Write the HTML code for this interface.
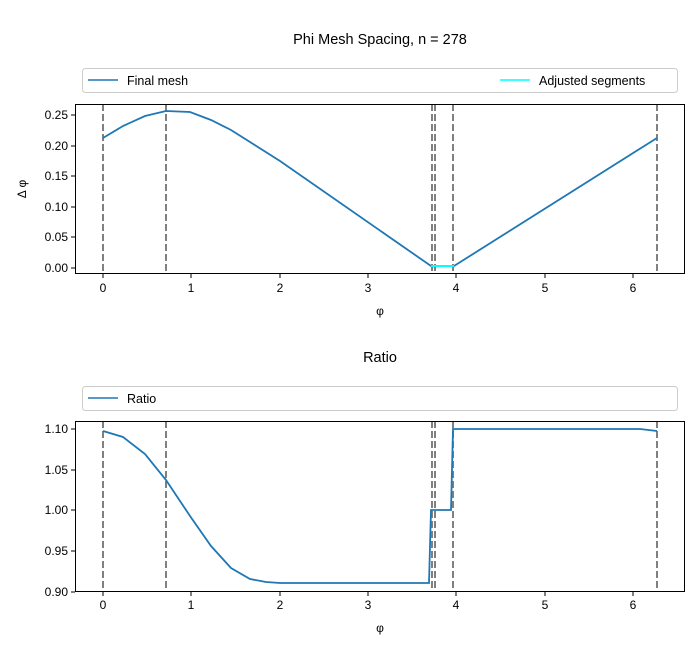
<!DOCTYPE html><html><head><style>body{margin:0;background:#fff}svg{font-family:"Liberation Sans",sans-serif}</style></head><body>
<svg width="700" height="650" xmlns="http://www.w3.org/2000/svg">
<text x="380" y="44" font-size="14.5" text-anchor="middle">Phi Mesh Spacing, n = 278</text>
<rect x="82.5" y="68.5" width="595" height="24" fill="#fff" stroke="#ccc" rx="3"/>
<line x1="88" y1="80" x2="118" y2="80" stroke="#1f77b4" stroke-width="1.5"/>
<text x="127" y="85" font-size="12.5">Final mesh</text>
<line x1="500" y1="80" x2="530" y2="80" stroke="cyan" stroke-width="1.5"/>
<text x="539" y="85" font-size="12.5">Adjusted segments</text>
<g stroke="#808080" stroke-width="2" stroke-dasharray="7,3">
<line x1="103" y1="104" x2="103" y2="274"/><line x1="166" y1="104" x2="166" y2="274"/><line x1="432" y1="104" x2="432" y2="274"/><line x1="435" y1="104" x2="435" y2="274"/><line x1="453" y1="104" x2="453" y2="274"/><line x1="657" y1="104" x2="657" y2="274"/>
<line x1="103" y1="421" x2="103" y2="592"/><line x1="166" y1="421" x2="166" y2="592"/><line x1="432" y1="421" x2="432" y2="592"/><line x1="435" y1="421" x2="435" y2="592"/><line x1="453" y1="421" x2="453" y2="592"/><line x1="657" y1="421" x2="657" y2="592"/>
</g>
<polyline fill="none" stroke="#1f77b4" stroke-width="1.8" points="103,138 123,126 145,116 166,111 190,112 211,120 231,130 250,142 280,161 431,266 454,266 657,138"/>
<line x1="431" y1="266" x2="454" y2="266" stroke="cyan" stroke-width="2"/>
<rect x="75.5" y="104.5" width="609" height="169" fill="none" stroke="#000"/>
<g font-size="12" text-anchor="middle">
<text x="103" y="292">0</text><text x="191" y="292">1</text><text x="280" y="292">2</text><text x="368" y="292">3</text><text x="456" y="292">4</text><text x="545" y="292">5</text><text x="633" y="292">6</text>
<text x="380" y="315">φ</text>
<text x="103" y="609">0</text><text x="191" y="609">1</text><text x="280" y="609">2</text><text x="368" y="609">3</text><text x="456" y="609">4</text><text x="545" y="609">5</text><text x="633" y="609">6</text>
<text x="380" y="632">φ</text>
</g>
<g stroke="#000"><line x1="103" y1="274" x2="103" y2="278"/><line x1="191" y1="274" x2="191" y2="278"/><line x1="280" y1="274" x2="280" y2="278"/><line x1="368" y1="274" x2="368" y2="278"/><line x1="456" y1="274" x2="456" y2="278"/><line x1="545" y1="274" x2="545" y2="278"/><line x1="633" y1="274" x2="633" y2="278"/>
<line x1="103" y1="592" x2="103" y2="596"/><line x1="191" y1="592" x2="191" y2="596"/><line x1="280" y1="592" x2="280" y2="596"/><line x1="368" y1="592" x2="368" y2="596"/><line x1="456" y1="592" x2="456" y2="596"/><line x1="545" y1="592" x2="545" y2="596"/><line x1="633" y1="592" x2="633" y2="596"/>
<line x1="71" y1="268" x2="75" y2="268"/><line x1="71" y1="237" x2="75" y2="237"/><line x1="71" y1="207" x2="75" y2="207"/><line x1="71" y1="176" x2="75" y2="176"/><line x1="71" y1="146" x2="75" y2="146"/><line x1="71" y1="115" x2="75" y2="115"/>
<line x1="71" y1="592" x2="75" y2="592"/><line x1="71" y1="551" x2="75" y2="551"/><line x1="71" y1="510" x2="75" y2="510"/><line x1="71" y1="470" x2="75" y2="470"/><line x1="71" y1="429" x2="75" y2="429"/></g>
<g font-size="12" text-anchor="end">
<text x="68" y="272">0.00</text><text x="68" y="241">0.05</text><text x="68" y="211">0.10</text><text x="68" y="180">0.15</text><text x="68" y="150">0.20</text><text x="68" y="119">0.25</text>
<text x="68" y="596">0.90</text><text x="68" y="555">0.95</text><text x="68" y="514">1.00</text><text x="68" y="474">1.05</text><text x="68" y="433">1.10</text>
</g>
<text transform="translate(26,189) rotate(-90)" font-size="12" text-anchor="middle">Δ φ</text>
<text x="380" y="362" font-size="14.5" text-anchor="middle">Ratio</text>
<rect x="82.5" y="386.5" width="595" height="24" fill="#fff" stroke="#ccc" rx="3"/>
<line x1="88" y1="398" x2="118" y2="398" stroke="#1f77b4" stroke-width="1.5"/>
<text x="127" y="403" font-size="12.5">Ratio</text>
<polyline fill="none" stroke="#1f77b4" stroke-width="1.8" points="103,431 123,437 145,454 166,480 190,516 211,546 231,568 250,579 266,582 280,583 429,583 431,510 451,510 453,429 640,429 657,431"/>
<rect x="75.5" y="421.5" width="609" height="170" fill="none" stroke="#000"/>
</svg></body></html>
